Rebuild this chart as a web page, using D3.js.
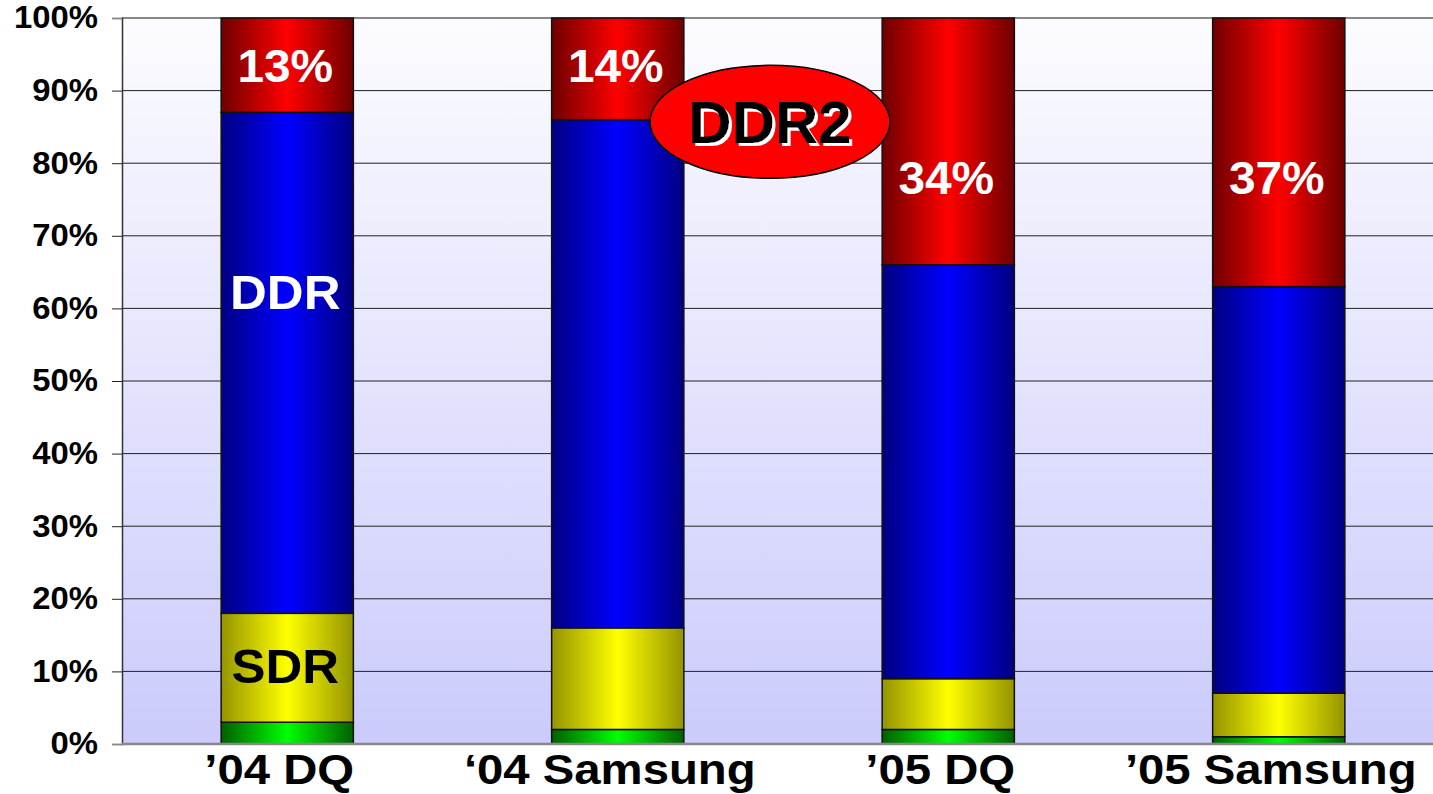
<!DOCTYPE html>
<html>
<head>
<meta charset="utf-8">
<script src="https://cdn.jsdelivr.net/npm/d3@7"></script>
<style>
  body { margin: 0; background: #fff; }
  svg { display: block; font-family: "Liberation Sans", Arial, sans-serif; font-weight: bold; }
</style>
</head>
<body>
<div id="chart"></div>
<script>
// chart data
const categories = ["\u201904 DQ", "\u201804 Samsung", "\u201905 DQ", "\u201905 Samsung"];
const seriesNames = ["Other", "SDR", "DDR", "DDR2"];
const otherShare = [3, 2, 2, 1];
const sdrShare = [15, 14, 7, 6];
const ddrShare = [69, 70, 57, 56];
const ddr2Share = [13, 14, 34, 37];
const yTicks = [0, 10, 20, 30, 40, 50, 60, 70, 80, 90, 100];

// in-bar annotations: category index, value the text is centred on, text
const annotations = [
  { cat: 0, at: 93.5, text: "13%", color: "#fff" },
  { cat: 1, at: 93.5, text: "14%", color: "#fff" },
  { cat: 2, at: 78, text: "34%", color: "#fff" },
  { cat: 3, at: 78, text: "37%", color: "#fff" },
  { cat: 0, at: 62.3, text: "DDR", color: "#fff" },
  { cat: 0, at: 10.8, text: "SDR", color: "#000" }
];

const W = 1433, H = 794;
const margin = { top: 18, left: 122, bottom: 50 };
const plotRight = 1444; // plot runs a bit past the window edge
const plotBottom = H - margin.bottom;

const x = d3.scaleBand().domain(categories).range([margin.left, plotRight]).paddingInner(0.6).paddingOuter(0.3);
const y = d3.scaleLinear().domain([0, 100]).range([plotBottom, margin.top]);

const svg = d3.select("#chart").append("svg").attr("width", W).attr("height", H);
const defs = svg.append("defs");

// plot background gradient
const bg = defs.append("linearGradient").attr("id", "bgGrad")
  .attr("x1", "0%").attr("y1", "0%").attr("x2", "0%").attr("y2", "100%");
bg.append("stop").attr("offset", "0%").attr("stop-color", "#fcfcff");
bg.append("stop").attr("offset", "100%").attr("stop-color", "#cbcbfc");

// bar gradients, dark at the edges
const barColors = { Other: ["#006000", "#00ff00"], SDR: ["#949400", "#ffff00"], DDR: ["#000080", "#0000ff"], DDR2: ["#6e0000", "#ff0000"] };
seriesNames.forEach(name => {
  const g = defs.append("linearGradient").attr("id", "grad" + name)
    .attr("x1", "0%").attr("y1", "0%").attr("x2", "100%").attr("y2", "0%");
  g.append("stop").attr("offset", "0%").attr("stop-color", barColors[name][0]);
  g.append("stop").attr("offset", "50%").attr("stop-color", barColors[name][1]);
  g.append("stop").attr("offset", "100%").attr("stop-color", barColors[name][0]);
});

// white drop shadow for the callout text
const shadow = defs.append("filter").attr("id", "whiteShadow")
  .attr("x", "-10%").attr("y", "-10%").attr("width", "130%").attr("height", "130%");
shadow.append("feOffset").attr("in", "SourceAlpha").attr("dx", 3).attr("dy", 3).attr("result", "off");
shadow.append("feFlood").attr("flood-color", "#fff").attr("result", "white");
shadow.append("feComposite").attr("in", "white").attr("in2", "off").attr("operator", "in").attr("result", "sh");
const merge = shadow.append("feMerge");
merge.append("feMergeNode").attr("in", "sh");
merge.append("feMergeNode").attr("in", "SourceGraphic");

svg.append("rect")
  .attr("x", margin.left).attr("y", margin.top)
  .attr("width", plotRight - margin.left).attr("height", plotBottom - margin.top)
  .attr("fill", "url(#bgGrad)");

// gridlines
svg.append("g").selectAll("line")
  .data(yTicks.filter(t => t > 0))
  .enter().append("line")
  .attr("x1", margin.left).attr("x2", plotRight)
  .attr("y1", d => y(d)).attr("y2", d => y(d))
  .attr("stroke", d => d === 100 ? "#888" : "#222")
  .attr("stroke-width", d => d === 100 ? 2 : 1);

// stacked bars
const table = categories.map((c, i) => ({ cat: c, Other: otherShare[i], SDR: sdrShare[i], DDR: ddrShare[i], DDR2: ddr2Share[i] }));
const stacked = d3.stack().keys(seriesNames)(table);

svg.append("g").selectAll("g")
  .data(stacked)
  .enter().append("g")
  .attr("fill", d => "url(#grad" + d.key + ")")
  .selectAll("rect")
  .data(d => d)
  .enter().append("rect")
  .attr("x", d => x(d.data.cat))
  .attr("width", x.bandwidth())
  .attr("y", d => y(d[1]))
  .attr("height", d => y(d[0]) - y(d[1]))
  .attr("stroke", "#111")
  .attr("stroke-width", 1.5);

// y axis
const yAxis = svg.append("g")
  .attr("transform", `translate(${margin.left},0)`)
  .call(d3.axisLeft(y).tickValues(yTicks).tickFormat(d => d + "%").tickSize(10).tickPadding(14));
yAxis.select(".domain").attr("stroke", "#333").attr("stroke-width", 1.5);
yAxis.selectAll(".tick line").attr("stroke", d => (d === 0 || d === 100) ? "#888" : "#222");
yAxis.selectAll(".tick text")
  .attr("font-size", 31).attr("font-weight", "bold").attr("fill", "#000")
  .attr("font-family", "Liberation Sans, Arial, sans-serif")
  .attr("transform", "scale(1.06,1)")
  .attr("x", -24 / 1.06);

// x axis baseline
svg.append("line")
  .attr("x1", margin.left).attr("x2", plotRight)
  .attr("y1", plotBottom).attr("y2", plotBottom)
  .attr("stroke", "#888").attr("stroke-width", 2.5);

// category labels
svg.append("g").selectAll("text")
  .data(categories)
  .enter().append("text")
  .attr("transform", d => `translate(${x(d) + x.bandwidth() / 2 - 8},${plotBottom + 40}) scale(1.1,1)`)
  .attr("text-anchor", "middle")
  .attr("font-size", 43)
  .attr("fill", "#000")
  .text(d => d);

// labels inside the bars
svg.append("g").selectAll("text")
  .data(annotations)
  .enter().append("text")
  .attr("transform", d => `translate(${x(categories[d.cat]) + x.bandwidth() / 2 - 2},${y(d.at)}) scale(1.04,1)`)
  .attr("text-anchor", "middle")
  .attr("dy", "0.36em")
  .attr("font-size", d => d.text.length === 3 && d.text.indexOf("%") < 0 ? 49 : 46)
  .attr("fill", d => d.color)
  .text(d => d.text);

// DDR2 callout, sitting between the second and third bars
const calloutX = (x(categories[1]) + x(categories[2]) + x.bandwidth()) / 2 - 13;
const callout = svg.append("g").attr("transform", `translate(${calloutX},${y(85.7)})`);
callout.append("ellipse")
  .attr("rx", 120).attr("ry", 56.5)
  .attr("fill", "#ff0000").attr("stroke", "#000").attr("stroke-width", 1.5);
callout.append("text")
  .attr("dy", "0.36em")
  .attr("text-anchor", "middle").attr("font-size", 60).attr("fill", "#000")
  .attr("filter", "url(#whiteShadow)")
  .text(seriesNames[3]);
</script>
</body>
</html>
